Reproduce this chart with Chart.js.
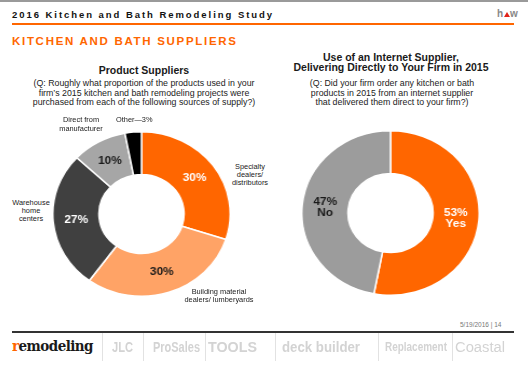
<!DOCTYPE html>
<html>
<head>
<meta charset="utf-8">
<script src="https://cdn.jsdelivr.net/npm/chart.js@4.4.1/dist/chart.umd.min.js"></script>
<style>
body{margin:0;width:528px;height:366px;background:#fff;font-family:"Liberation Sans",Arial,sans-serif;position:relative;overflow:hidden}
.t{position:absolute;white-space:nowrap;color:#1a1a1a}
.c{transform:translateX(-50%);text-align:center}
.rule{position:absolute;left:12px;width:502px}
.sep{position:absolute;top:333px;width:1px;height:28px;background:#e2e2e2}
.logo{position:absolute;top:338px;font-weight:bold;font-size:14px;line-height:18px;color:#d3d3d3;white-space:nowrap;transform-origin:left center}
canvas{position:absolute}
</style>
</head>
<body>
<div style="position:absolute;left:0;top:0;width:528px;height:1.5px;background:#9a9a9a"></div>
<div class="t" style="left:12px;top:9px;font-size:9.5px;line-height:12px;font-weight:bold;letter-spacing:1.95px;color:#111">2016 Kitchen and Bath Remodeling Study</div>
<div class="t" style="left:497px;top:8px;font-size:10px;line-height:12px;font-weight:bold;color:#888">h<span style="display:inline-block;width:0;height:0;border-left:3px solid transparent;border-right:3px solid transparent;border-bottom:5px solid #e2231a;margin:0 0.5px"></span>w</div>
<div class="rule" style="top:23px;height:2px;background:#ff6600"></div>
<div class="t" style="left:12px;top:34px;font-size:11.5px;line-height:14px;font-weight:bold;letter-spacing:1.7px;color:#ff6600">KITCHEN AND BATH SUPPLIERS</div>

<div class="t c" style="left:144px;top:63px;font-size:10.5px;line-height:14px;font-weight:bold">Product Suppliers</div>
<div class="t c" style="left:144px;top:79px;font-size:8.8px;line-height:9.6px;color:#222">(Q: Roughly what proportion of the products used in your<br>firm’s 2015 kitchen and bath remodeling projects were<br>purchased from each of the following sources of supply?)</div>

<div class="t c" style="left:391px;top:52px;font-size:10.5px;line-height:10px;font-weight:bold">Use of an Internet Supplier,<br>Delivering Directly to Your Firm in 2015</div>
<div class="t c" style="left:392px;top:79px;font-size:8.8px;line-height:9.6px;color:#222">(Q: Did your firm order any kitchen or bath<br>products in 2015 from an internet supplier<br>that delivered them direct to your firm?)</div>

<canvas id="supplierChart" width="166" height="166" style="left:51.5px;top:130.5px;width:179px;height:166px"></canvas>
<canvas id="internetChart" width="166" height="166" style="left:301px;top:129.5px;width:179px;height:166px"></canvas>

<div class="t c" style="left:81px;top:116px;font-size:7.4px;line-height:8.6px">Direct from<br>manufacturer</div>
<div class="t" style="left:116px;top:116px;font-size:7.4px;line-height:8.6px">Other—3%</div>
<div class="t c" style="left:250px;top:163px;font-size:7.4px;line-height:8.2px">Specialty<br>dealers/<br>distributors</div>
<div class="t c" style="left:31px;top:199px;font-size:7.4px;line-height:8.2px">Warehouse<br>home<br>centers</div>
<div class="t c" style="left:219px;top:288px;font-size:7.4px;line-height:8px">Building material<br>dealers/ lumberyards</div>

<div class="t" style="left:460px;top:321px;font-size:6.5px;line-height:8px;color:#777">5/19/2016 | 14</div>
<div class="rule" style="top:331px;height:1.5px;background:#333"></div>

<div class="logo" data-w="81" style="left:12px;top:337px;font-family:'DejaVu Serif',serif;font-size:15px;letter-spacing:-0.6px;color:#1a1a1a"><span style="color:#ff6600">r</span>emodeling</div>
<div class="sep" style="left:102px"></div>
<div class="logo" data-w="21" style="left:112px;font-size:15px">JLC</div>
<div class="sep" style="left:143px"></div>
<div class="logo" data-w="47" style="left:153px">ProSales</div>
<div class="sep" style="left:205px"></div>
<div class="logo" data-w="49" style="left:208px">TOOLS</div>
<div class="sep" style="left:275px"></div>
<div class="logo" data-w="78" style="left:282px">deck builder</div>
<div class="sep" style="left:378px"></div>
<div class="logo" data-w="62" style="left:385px;font-size:12.5px">Replacement</div>
<div class="sep" style="left:452px"></div>
<div class="logo" data-w="50" style="left:455px;font-weight:normal">Coastal</div>

<script>
const supplierLabels = ['Specialty dealers/ distributors', 'Building material dealers/ lumberyards', 'Warehouse home centers', 'Direct from manufacturer', 'Other']
const supplierValues = [30, 30, 27, 10, 3]
const supplierColors = ['#ff6600', '#ffa366', '#404040', '#a6a6a6', '#000000']
const supplierTextColors = ['#ffffff', '#1a1a1a', '#ffffff', '#1a1a1a', null]

const internetLabels = ['Yes', 'No']
const internetValues = [53, 47]
const internetColors = ['#ff6600', '#9c9c9c']
const internetTextColors = ['#ffffff', '#1a1a1a']

// squeeze the footer logos to their widths
for (const el of document.querySelectorAll('.logo')) {
    const w = el.getBoundingClientRect().width
    el.style.transform = 'scaleX(' + (el.dataset.w / w) + ')'
}

// percent labels drawn in the middle of each slice
const sliceText = {
    id: 'sliceText',
    afterDatasetsDraw(chart, args, opts) {
        const ctx = chart.ctx
        const meta = chart.getDatasetMeta(0)
        ctx.save()
        ctx.font = 'bold 11px "Liberation Sans", Arial, sans-serif'
        ctx.textAlign = 'center'
        ctx.textBaseline = 'middle'
        meta.data.forEach((arc, i) => {
            const lines = opts.lines[i]
            if (!lines) return
            const p = arc.tooltipPosition()
            ctx.fillStyle = opts.colors[i]
            lines.forEach((s, j) => {
                ctx.fillText(s, p.x, p.y + (j - (lines.length - 1) / 2) * 11)
            })
        })
        ctx.restore()
    }
}

function donut(id, labels, values, colors, lines, textColors) {
    new Chart(document.getElementById(id), {
        type: 'doughnut',
        data: {
            labels: labels,
            datasets: [{
                data: values,
                backgroundColor: colors,
                borderColor: '#ffffff',
                borderWidth: 1.5
            }]
        },
        options: {
            responsive: false,
            animation: false,
            cutout: '48%',
            events: [],
            layout: {padding: 0},
            plugins: {
                legend: {display: false},
                tooltip: {enabled: false},
                sliceText: {lines: lines, colors: textColors}
            }
        },
        plugins: [sliceText]
    })
}

donut('supplierChart', supplierLabels, supplierValues, supplierColors,
    supplierValues.map((v, i) => i < 4 ? [v + '%'] : null), supplierTextColors)
donut('internetChart', internetLabels, internetValues, internetColors,
    internetValues.map((v, i) => [v + '%', internetLabels[i]]), internetTextColors)
</script>
</body>
</html>
